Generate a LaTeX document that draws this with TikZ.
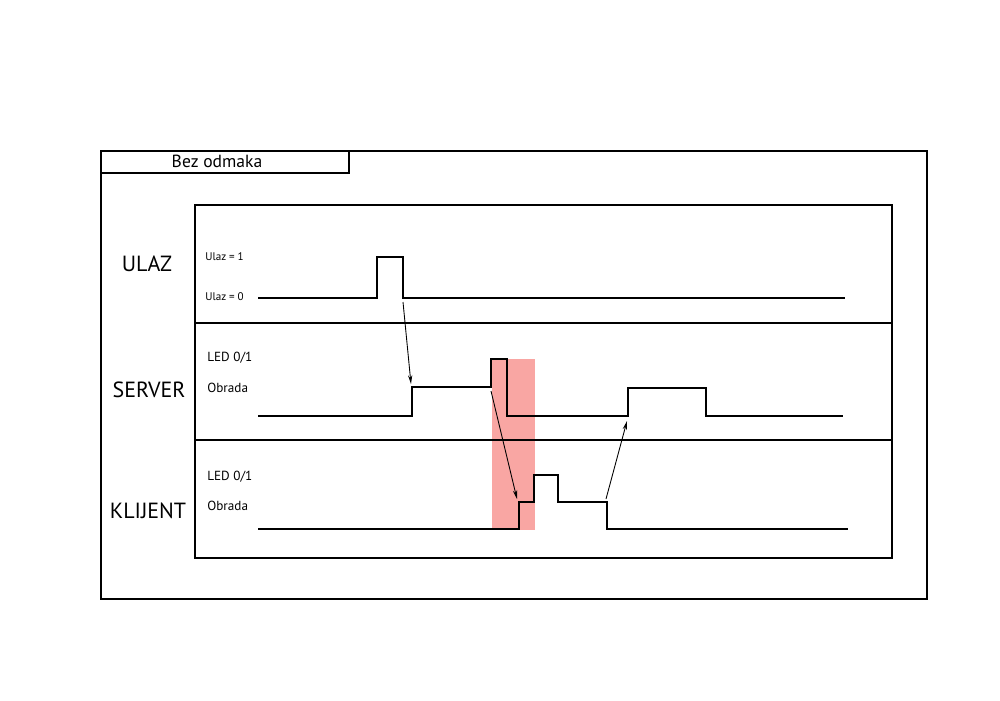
\documentclass[tikz,border=0pt]{standalone}
\usepackage{fontspec}
\setmainfont{PT Sans}
\usetikzlibrary{arrows.meta, positioning}
\definecolor{shadePink}{RGB}{249, 166, 163}

\begin{document}
\begin{tikzpicture}[
    x=0.02cm, y=-0.02cm,
    frame_line/.style={
        draw=black, 
        line width=1.1pt
    },
    signal/.style={
        draw=black, 
        line width=1.1pt, 
        line join=miter
    },
    row_label/.style={
        font=\fontsize{12.5}{14}\selectfont, 
        anchor=center, 
        inner sep=0pt
    },
    level_label/.style={
        font=\fontsize{7.5}{9}\selectfont, 
        anchor=west, 
        inner sep=0pt
    },
    input_label/.style={
        level_label,
        font=\fontsize{6.3}{8}\selectfont
    },
    trigger/.style={
        -{Stealth[length=5pt, width=2.4pt]}, 
        line width=0.5pt
    }
]
    \useasboundingbox (0, 0) rectangle (1000, 700);

    % Highlight
    \fill[shadePink] (492, 359) rectangle (535, 530);

    % Frames
    \draw[frame_line] (101, 151) rectangle (927, 599);
    \draw[frame_line] (101, 151) rectangle (349, 173);
    \node[font=\fontsize{10}{12}\selectfont, inner sep=0pt] (title) at (217, 161) {Bez odmaka};
    \draw[frame_line] (195, 205) rectangle (892, 558);
    \draw[frame_line] (195, 323) -- (892, 323);
    \draw[frame_line] (195, 440) -- (892, 440);

    % Row labels
    \node[row_label] (ulaz) at (147, 264) {ULAZ};
    \node[row_label] (server) at (149, 389.5) {SERVER};
    \node[row_label] (klijent) at (148, 511) {KLIJENT};

    \node[input_label] (ulaz1) at (205, 257) {Ulaz = 1};
    \node[input_label] (ulaz0) at (205, 297) {Ulaz = 0};
    \node[level_label] (srvLed) at (207, 358) {LED 0/1};
    \node[level_label] (srvObr) at (207, 388) {Obrada};
    \node[level_label] (cliLed) at (207, 477) {LED 0/1};
    \node[level_label] (cliObr) at (207, 506) {Obrada};

    % Signals
    \draw[signal] (258, 298) -- (377, 298) -- (377, 257) -- (403, 257) 
        -- (403, 298) -- (845, 298);
    \draw[signal] (258, 416) -- (412, 416) -- (412, 387) -- (491, 387) 
        -- (491, 359) -- (507, 359) -- (507, 416) -- (628, 416) 
        -- (628, 388) -- (706, 388) -- (706, 416) -- (843, 416);
    \draw[signal] (258, 529) -- (519, 529) -- (519, 502) -- (534, 502) 
        -- (534, 475) -- (558, 475) -- (558, 502) -- (607, 502) 
        -- (607, 529) -- (848, 529);

    % Triggers
    \coordinate (ulazFall) at (403, 302);
    \coordinate (srvRise) at (411, 384);
    \coordinate (srvLedOn) at (491, 391);
    \coordinate (cliRise) at (517, 499);
    \coordinate (cliFall) at (606, 499);
    \coordinate (srvRise2) at (627, 421);

    \draw[trigger] (ulazFall) -- (srvRise);
    \draw[trigger] (srvLedOn) -- (cliRise);
    \draw[trigger] (cliFall) -- (srvRise2);
\end{tikzpicture}
\end{document}
